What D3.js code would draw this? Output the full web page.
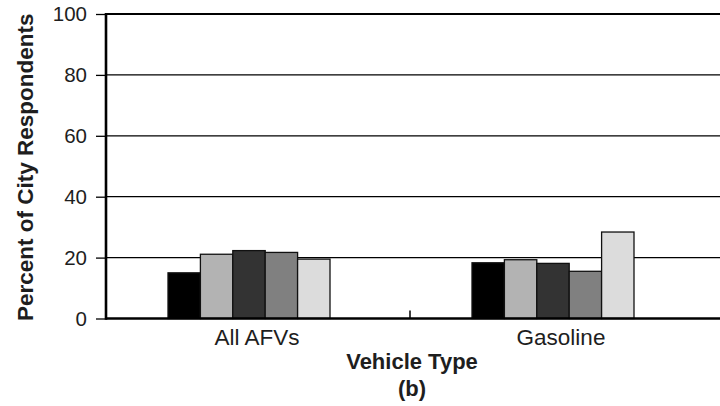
<!DOCTYPE html>
<html>
<head>
<meta charset="utf-8">
<script src="https://cdn.jsdelivr.net/npm/d3@7"></script>
<style>
  html, body { margin: 0; padding: 0; background: #fff; }
  svg { display: block; font-family: "Liberation Sans", Arial, sans-serif; }
</style>
</head>
<body>
<svg id="chart" width="720" height="406"></svg>
<script>
// ---- data ----
const categories = ["All AFVs", "Gasoline"];
const seriesNames = ["S1", "S2", "S3", "S4", "S5"];
const seriesColors = ["#000000", "#b3b3b3", "#333333", "#808080", "#dcdcdc"];
const valuesAllAFVs = [15.0, 21.1, 22.3, 21.7, 19.5];
const valuesGasoline = [18.3, 19.3, 18.1, 15.5, 28.4];
const yTicks = [0, 20, 40, 60, 80, 100];
const yTitle = "Percent of City Respondents";
const xTitle = "Vehicle Type";
const subTitle = "(b)";

const seriesValues = [valuesAllAFVs, valuesGasoline];

// ---- layout ----
const svg = d3.select("#chart");
const padL = 106, padR = 714, padT = 14, padB = 318.5, edge = 720;
const ink = "#1e1e1e";
const ff = "'Liberation Sans', Arial, sans-serif";

const y = d3.scaleLinear().domain([0, 100]).range([padB, padT]);
const x0 = d3.scaleBand().domain(categories).range([padL, padR]).padding(0);
const x1 = d3.scaleBand().domain(seriesNames).range([0, 162]).padding(0);
const groupOffset = -90;

// gridlines
svg.append("g").selectAll("line")
  .data(yTicks.filter(d => d > 0 && d < 100))
  .join("line")
  .attr("x1", padL).attr("x2", edge)
  .attr("y1", d => y(d)).attr("y2", d => y(d))
  .attr("stroke", "#000").attr("stroke-width", 1.2);

// top border
svg.append("line")
  .attr("x1", padL).attr("x2", edge)
  .attr("y1", y(100)).attr("y2", y(100))
  .attr("stroke", "#000").attr("stroke-width", 2.2);

// bars
const groups = svg.append("g").selectAll("g")
  .data(categories)
  .join("g")
  .attr("transform", d => `translate(${x0(d) + x0.bandwidth() / 2 + groupOffset},0)`);

groups.selectAll("rect")
  .data((c, i) => seriesValues[i].map((v, j) => ({ s: seriesNames[j], v, j })))
  .join("rect")
  .attr("x", d => x1(d.s))
  .attr("width", x1.bandwidth())
  .attr("y", d => y(d.v))
  .attr("height", d => y(0) - y(d.v))
  .attr("fill", d => seriesColors[d.j])
  .attr("stroke", "#111")
  .attr("stroke-width", 1.3);

// y axis
const yAxis = d3.axisLeft(y).tickValues(yTicks).tickSize(10).tickPadding(9).tickFormat(d3.format("d"));
const gy = svg.append("g").attr("transform", `translate(${padL},0)`).call(yAxis);
gy.select(".domain").remove();
gy.selectAll(".tick line").attr("stroke", "#000").attr("stroke-width", 1.3);
gy.selectAll(".tick text").attr("fill", ink).style("font-size", "20.5px").style("font-family", ff);

svg.append("line")
  .attr("x1", padL).attr("x2", padL)
  .attr("y1", y(100) - 1).attr("y2", padB + 1.2)
  .attr("stroke", "#000").attr("stroke-width", 2.6);

// x axis
svg.append("line")
  .attr("x1", padL).attr("x2", edge)
  .attr("y1", padB).attr("y2", padB)
  .attr("stroke", "#000").attr("stroke-width", 2.6);

// middle category separator tick
svg.append("line")
  .attr("x1", x0(categories[1])).attr("x2", x0(categories[1]))
  .attr("y1", padB).attr("y2", padB - 8)
  .attr("stroke", "#000").attr("stroke-width", 1.5);

// category labels
svg.append("g").selectAll("text")
  .data(categories)
  .join("text")
  .attr("x", d => x0(d) + x0.bandwidth() / 2 - 1)
  .attr("y", 345)
  .attr("text-anchor", "middle")
  .attr("fill", ink)
  .style("font-size", "22.5px")
  .text(d => d);

// x title
svg.append("text")
  .attr("x", 412).attr("y", 369)
  .attr("text-anchor", "middle")
  .attr("fill", ink)
  .style("font-size", "22px").style("font-weight", "bold")
  .text(xTitle);

svg.append("text")
  .attr("x", 412).attr("y", 396)
  .attr("text-anchor", "middle")
  .attr("fill", ink)
  .style("font-size", "22px").style("font-weight", "bold")
  .text(subTitle);

// y title
svg.append("text")
  .attr("transform", `translate(33,${(padT + padB) / 2 + 1}) rotate(-90)`)
  .attr("text-anchor", "middle")
  .attr("fill", ink)
  .style("font-size", "22.5px").style("font-weight", "bold")
  .text(yTitle);
</script>
</body>
</html>
